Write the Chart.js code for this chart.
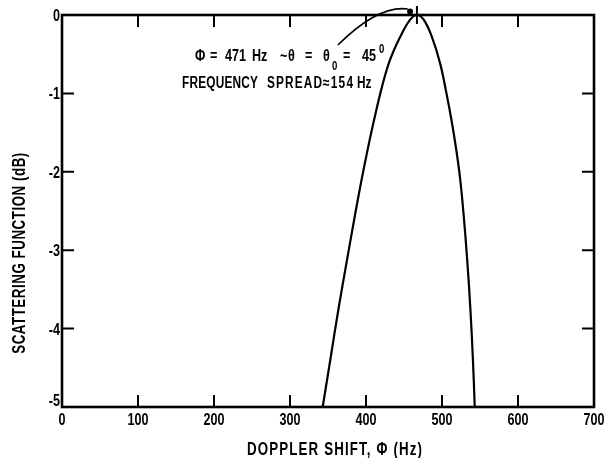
<!DOCTYPE html>
<html>
<head>
<meta charset="utf-8">
<script src="https://cdn.jsdelivr.net/npm/chart.js@4.4.1/dist/chart.umd.min.js"></script>
<style>
  html, body { margin: 0; padding: 0; background: #fff; }
</style>
</head>
<body>
<canvas id="chart" width="606" height="458"></canvas>
<script>
// scattering function vs doppler shift
const dopplerHz = [343, 353, 363.6, 374.9, 386.3, 394.2, 402.1, 410.6, 421.2, 431.7, 444.9, 458.1, 467, 475.9, 486.7, 497.6, 505.9, 513.2, 519.4, 524, 528.3, 533.2, 537.4, 540.7, 543.1];
const scatterDb = [-5, -4.4, -3.76, -3.13, -2.51, -2.1, -1.72, -1.34, -0.91, -0.57, -0.28, -0.06, 0, -0.06, -0.28, -0.62, -1.0, -1.38, -1.76, -2.1, -2.53, -3.13, -3.76, -4.4, -5];
const xTicks = [0, 100, 200, 300, 400, 500, 600, 700];
const yTicks = [0, -1, -2, -3, -4, -5];
const peakHz = 467;

const xTitle = 'DOPPLER SHIFT, \u03A6 (Hz)';
const yTitle = 'SCATTERING FUNCTION (dB)';
const noteWords = ['\u03A6', '=', '471', 'Hz', '~', '\u03B8', '=', '\u03B8', '=', '45'];
const noteSub = '0';
const noteSup = '0';
const spreadWords = ['FREQUENCY', 'SPREAD', '\u2248154', 'Hz'];

const fontFamily = "'Liberation Sans', Arial, sans-serif";
const squeeze = 0.74;

// where each word of the lettering starts, in pixels (and the width for the second line)
const noteX = [195, 210, 225, 252, 280, 288, 305, 323, 343, 362];
const spreadX = [[182, 76], [267, 55], [323, 30], [357, 17]];

// condensed lettering, like the original figure
const drawText = function(ctx, text, x, y, size, align, spacing, angle){
    ctx.save();
    ctx.font = `bold ${size}px ${fontFamily}`;
    ctx.letterSpacing = `${spacing}px`;
    ctx.textAlign = align;
    ctx.textBaseline = 'alphabetic';
    ctx.translate(x, y);
    if(angle){
        ctx.rotate(angle);
    }
    ctx.scale(squeeze, 1);
    ctx.fillText(text, 0, 0);
    let w = ctx.measureText(text).width * squeeze;
    ctx.restore();
    return w;
}

// same, but spreads the letters so the text covers a given width
const drawSpread = function(ctx, text, x, y, size, align, width, angle){
    ctx.save();
    ctx.font = `bold ${size}px ${fontFamily}`;
    ctx.letterSpacing = '0px';
    let natural = ctx.measureText(text).width * squeeze;
    ctx.restore();
    let spacing = text.length > 2 ? (width - natural) / (text.length - 1) / squeeze : 0;
    return drawText(ctx, text, x, y, size, align, spacing, angle);
}

const decorations = {
    id: 'decorations',
    afterDatasetsDraw(chart){
        const ctx = chart.ctx;
        const area = chart.chartArea;
        const xs = chart.scales.x;
        const ys = chart.scales.y;

        ctx.save();
        ctx.strokeStyle = '#000';
        ctx.fillStyle = '#000';

        // frame
        ctx.lineWidth = 2.6;
        ctx.strokeRect(area.left, area.top, area.right - area.left, area.bottom - area.top);

        // inward ticks on all four sides
        ctx.lineWidth = 2;
        ctx.beginPath();
        for (const v of xTicks) {
            if(v === xTicks[0] || v === xTicks[xTicks.length - 1]) continue;
            let px = xs.getPixelForValue(v);
            ctx.moveTo(px, area.bottom);
            ctx.lineTo(px, area.bottom - 12);
            ctx.moveTo(px, area.top);
            ctx.lineTo(px, area.top + 12);
        }
        for (const v of yTicks) {
            if(v === yTicks[0] || v === yTicks[yTicks.length - 1]) continue;
            let py = ys.getPixelForValue(v);
            ctx.moveTo(area.left, py);
            ctx.lineTo(area.left + 12, py);
            ctx.moveTo(area.right, py);
            ctx.lineTo(area.right - 12, py);
        }
        ctx.stroke();

        // tick labels
        for (const t of xs.ticks) {
            drawText(ctx, t.label, xs.getPixelForValue(t.value), area.bottom + 18, 17, 'center', 0);
        }
        for (const t of ys.ticks) {
            let py = Math.min(ys.getPixelForValue(t.value), area.bottom - 7);
            drawText(ctx, t.label, area.left - 2, py + 6, 17, 'right', 0);
        }

        // leader line from the note to the peak
        ctx.lineWidth = 1.6;
        ctx.beginPath();
        ctx.moveTo(xs.getPixelForValue(363), ys.getPixelForValue(-0.383));
        ctx.quadraticCurveTo(xs.getPixelForValue(416), ys.getPixelForValue(0.128), xs.getPixelForValue(455), ys.getPixelForValue(0.077));
        ctx.stroke();
        ctx.beginPath();
        ctx.arc(xs.getPixelForValue(458), ys.getPixelForValue(0.045), 3, 0, Math.PI * 2);
        ctx.fill();

        // note text
        const y1 = 61;
        noteWords.forEach((word, i) => drawText(ctx, word, noteX[i], y1, 17, 'left', 0));
        drawText(ctx, noteSub, 332, y1 + 9, 13, 'left', 0);
        drawText(ctx, noteSup, 379, y1 - 8, 13, 'left', 0);

        const y2 = 88;
        spreadWords.forEach((word, i) => drawSpread(ctx, word, spreadX[i][0], y2, 16, 'left', spreadX[i][1]));

        // axis titles
        drawSpread(ctx, xTitle, 247, 455, 18, 'left', 175);
        drawSpread(ctx, yTitle, 25, 253, 18, 'center', 201, -Math.PI / 2);
        ctx.restore();
    }
};

const ctx = document.getElementById('chart');

const chart = new Chart(ctx, {
    type: 'scatter',
    data: {
        datasets: [{
            data: dopplerHz.map((v, i) => ({ x: v, y: scatterDb[i] })),
            showLine: true,
            borderColor: '#000',
            borderWidth: 2.2,
            tension: 0.4,
            clip: false,
            pointStyle: 'line',
            rotation: 90,
            pointRadius: dopplerHz.map(v => v === peakHz ? 9 : 0),
            pointBorderWidth: 2,
            pointBorderColor: '#000'
        }]
    },
    options: {
        responsive: false,
        animation: false,
        events: [],
        layout: { padding: { left: 0, right: 12, top: 15, bottom: 0 } },
        plugins: {
            legend: { display: false },
            tooltip: { enabled: false }
        },
        scales: {
            x: {
                type: 'linear',
                min: 0,
                max: 700,
                afterBuildTicks: s => { s.ticks = xTicks.map(v => ({ value: v })); },
                afterFit: s => { s.height = 51; },
                grid: { display: false, drawTicks: false },
                border: { display: false },
                ticks: { display: false, autoSkip: false }
            },
            y: {
                type: 'linear',
                min: -5,
                max: 0,
                afterBuildTicks: s => { s.ticks = yTicks.map(v => ({ value: v })); },
                afterFit: s => { s.width = 62; },
                grid: { display: false, drawTicks: false },
                border: { display: false },
                ticks: { display: false, autoSkip: false }
            }
        }
    },
    plugins: [decorations]
});
</script>
</body>
</html>
